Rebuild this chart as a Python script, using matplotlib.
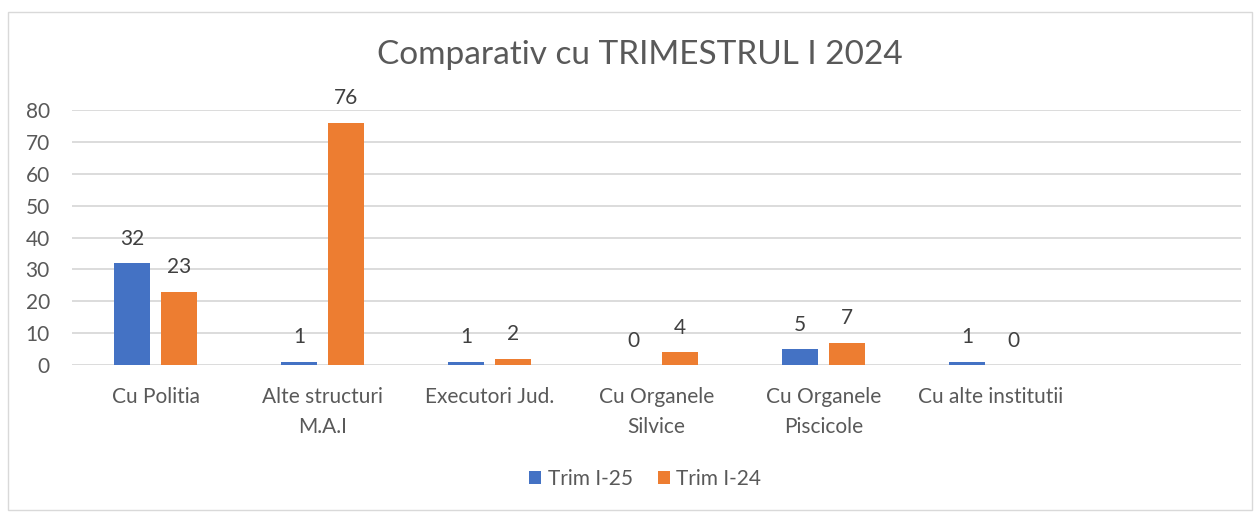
import numpy as np
import matplotlib.pyplot as plt
from matplotlib.patches import Rectangle

# datos
categorias = ["Cu Politia", "Alte structuri\nM.A.I", "Executori Jud.",
              "Cu Organele\nSilvice", "Cu Organele\nPiscicole", "Cu alte institutii", ""]
trim_25 = [32, 1, 1, 0, 5, 1, None]
trim_24 = [23, 76, 2, 4, 7, 0, None]
series = ["Trim I-25", "Trim I-24"]
colores = ["#4472C4", "#ED7D31"]
y_ticks = [0, 10, 20, 30, 40, 50, 60, 70, 80]

plt.rcParams['font.family'] = ['Lato', 'DejaVu Sans']

fig = plt.figure(figsize=(12.6, 5.12), dpi=100)
fig.patches.append(Rectangle((8 / 1260, 2 / 512), 1244 / 1260, 498 / 512,
                             transform=fig.transFigure, fill=False,
                             edgecolor="#d9d9d9", linewidth=1))

ax = fig.add_axes([72 / 1260, 1 - 365 / 512, (1241 - 72) / 1260, (365 - 110) / 512])

x = np.arange(len(categorias))
ancho = 0.22
offset = 0.14

for k, (valores, nombre, color) in enumerate(zip([trim_25, trim_24], series, colores)):
    pos = x + (offset if k else -offset)
    vals = [v if v is not None else 0 for v in valores]
    barras = ax.bar(pos[:6], vals[:6], width=ancho, color=color, label=nombre, zorder=3)
    for b, v in zip(barras, valores[:6]):
        ax.text(b.get_x() + b.get_width() / 2, v + 4.5, str(v), ha="center", va="bottom",
                fontsize=15, color="#404040")

ax.set_xlim(-0.5, len(categorias) - 0.5)
ax.set_ylim(0, 80)
ax.set_yticks(y_ticks)
ax.yaxis.grid(True, color="#d9d9d9", linewidth=1.3, zorder=0)
ax.set_axisbelow(True)
for s in ax.spines.values():
    s.set_visible(False)
ax.set_xticks(x)
ax.set_xticklabels(categorias, fontsize=15, color="#595959", linespacing=1.6, va="top")
ax.tick_params(axis="both", length=0, labelsize=15, colors="#595959")
ax.tick_params(axis="x", pad=16)
ax.tick_params(axis="y", pad=16)

fig.text(640 / 1260, 1 - 55 / 512, "Comparativ cu TRIMESTRUL I 2024", ha="center", va="center",
         fontsize=24, color="#595959")

fig.legend(loc="center", bbox_to_anchor=(645 / 1260, 1 - 479 / 512), ncol=2, frameon=False,
           fontsize=15, labelcolor="#595959", handlelength=0.6, handleheight=0.6,
           handletextpad=0.3, columnspacing=1.2)

fig.savefig("out.png", dpi=100)
